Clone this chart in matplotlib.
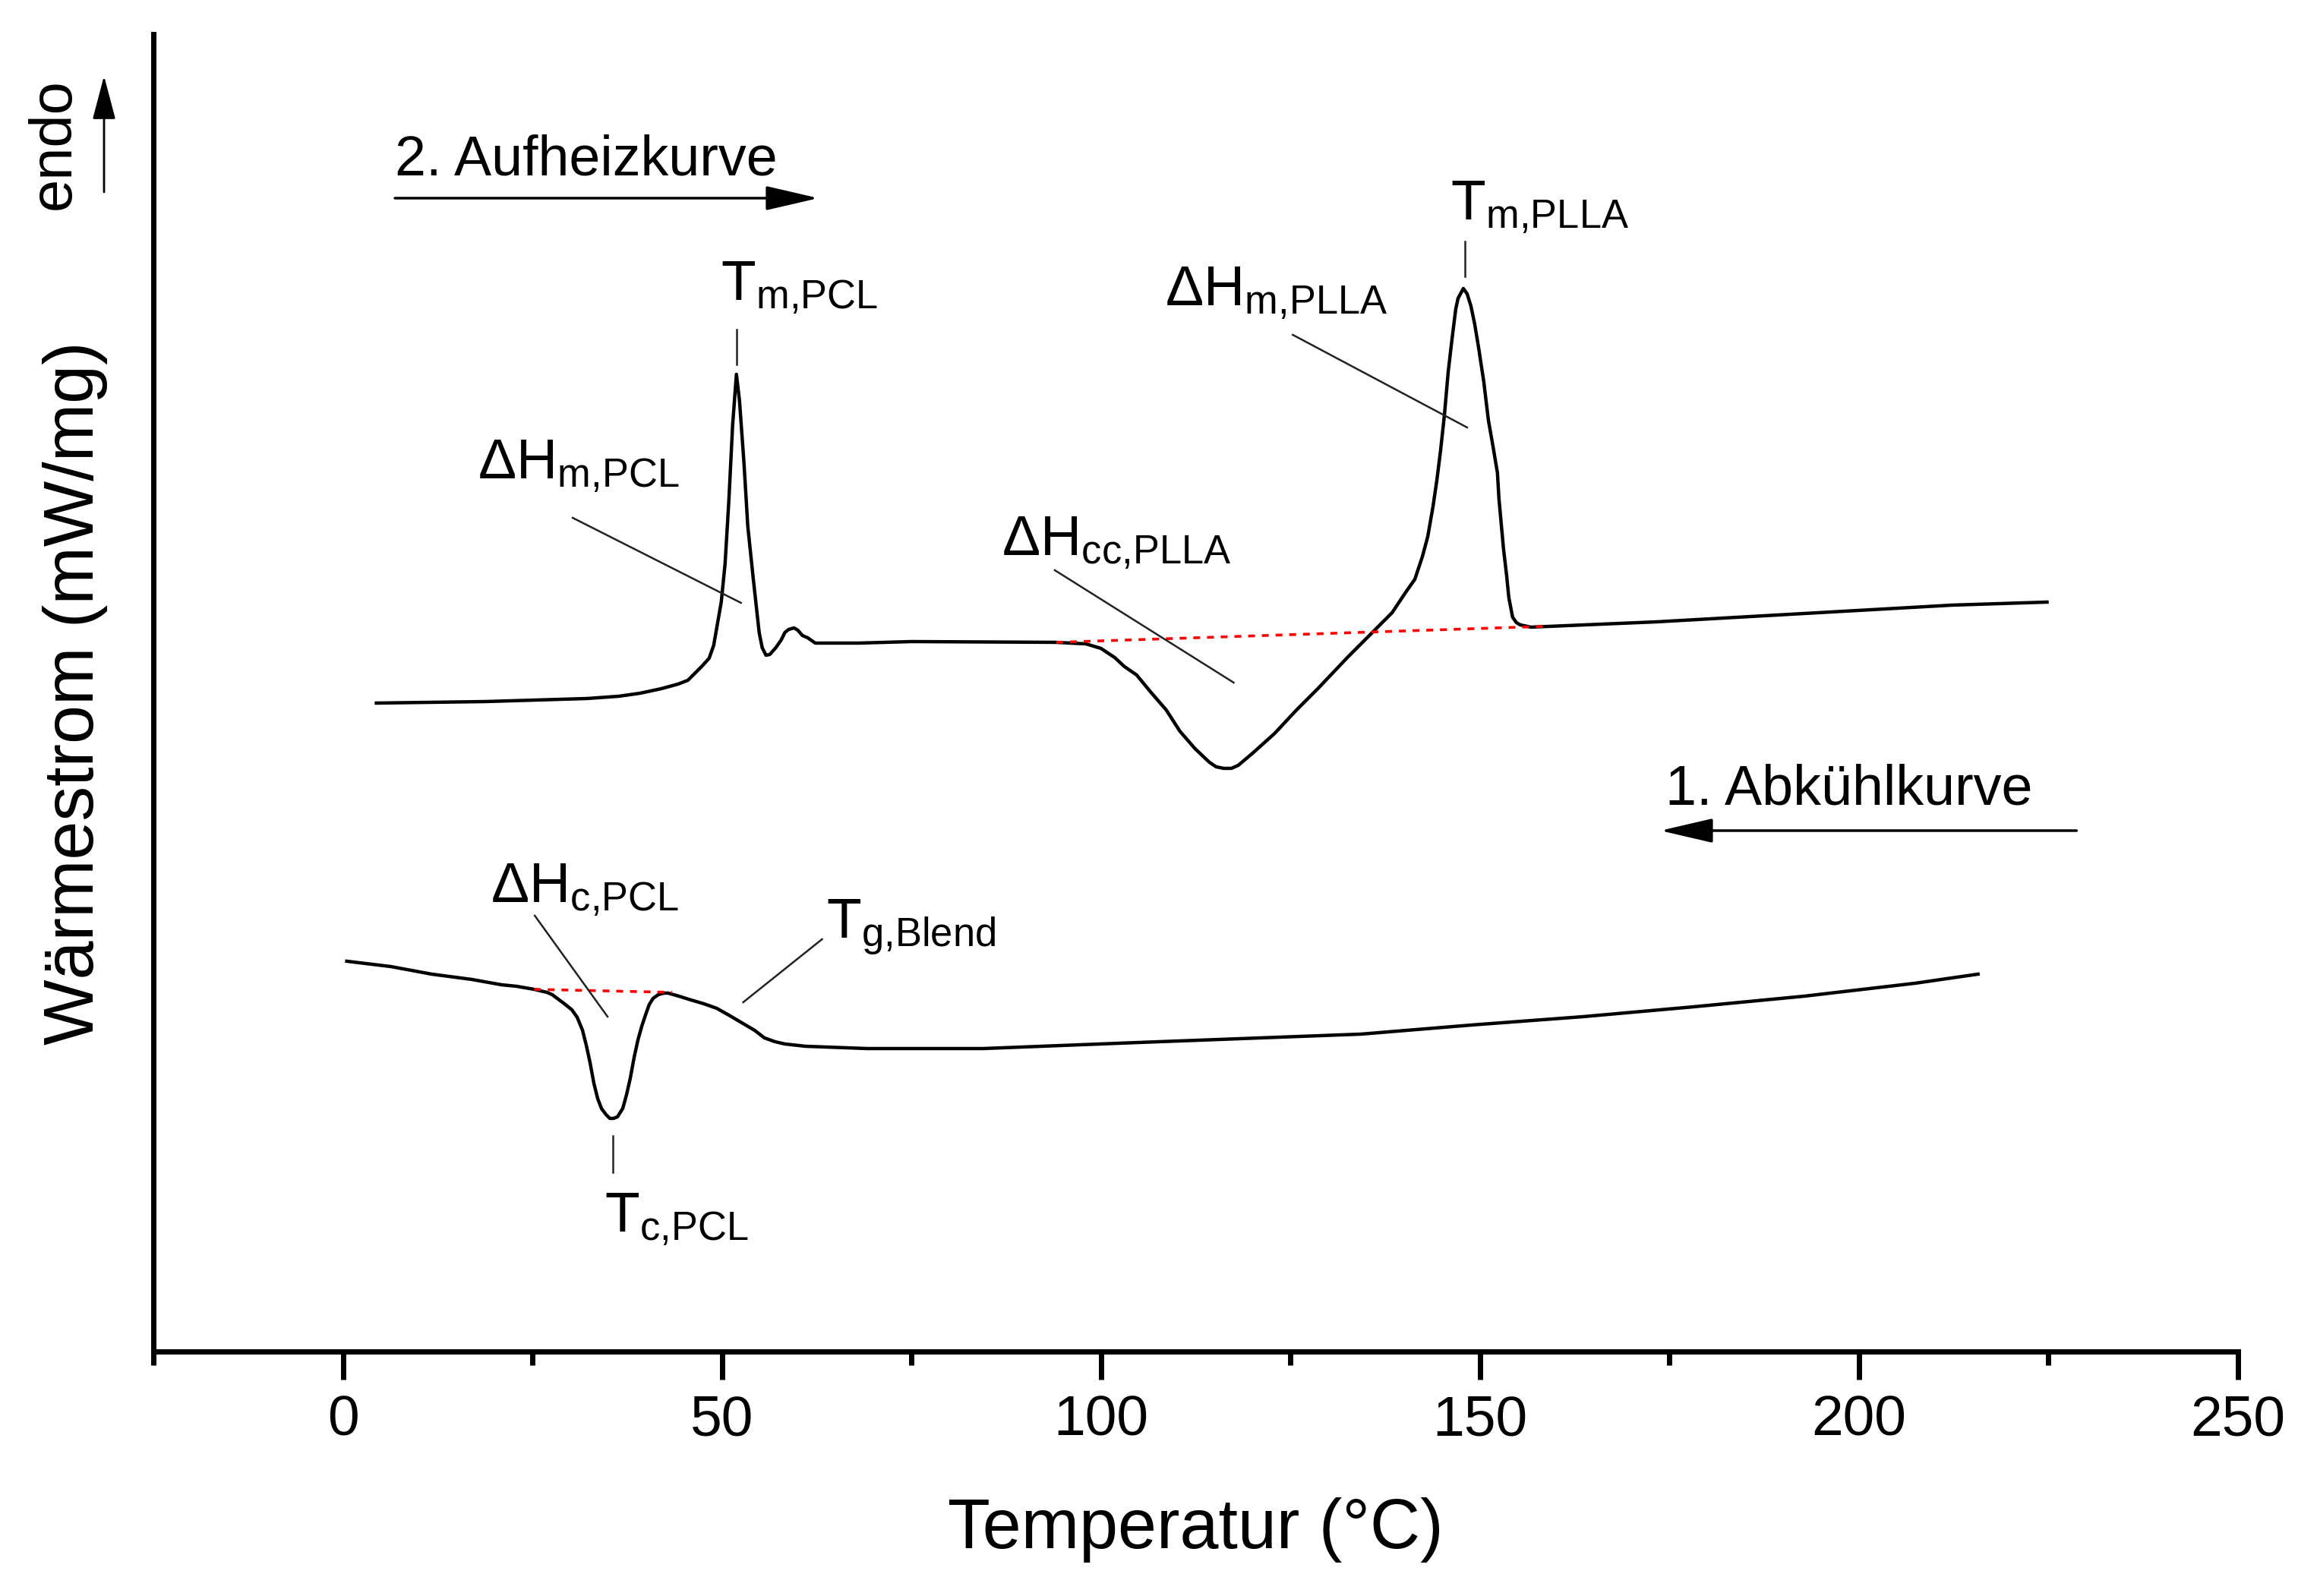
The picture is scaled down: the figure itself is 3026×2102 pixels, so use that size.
import matplotlib
matplotlib.use("Agg")
import matplotlib.pyplot as plt

plt.rcParams["font.family"] = ["Liberation Sans", "DejaVu Sans"]
plt.rcParams["mathtext.fontset"] = "custom"
plt.rcParams["mathtext.rm"] = "Liberation Sans"
plt.rcParams["mathtext.it"] = "Liberation Sans:italic"

# 2. Aufheizkurve (temperature in degC, heat flow in arbitrary units)
heat_T = [4.4, 18.8, 32.2, 36.4, 39.2, 42.0, 44.2, 45.5, 47.3, 48.3, 48.9, 49.9,
          50.4, 50.9, 51.4, 51.9, 52.3, 52.9, 53.4, 54.1, 54.9, 55.3, 55.8, 56.3,
          57.1, 57.8, 58.3, 58.8, 59.5, 60.0, 60.6, 61.3, 62.3, 68.0, 75.0, 94.0,
          98.0, 100.0, 101.8, 103.1, 104.7,
          106.6, 108.6, 110.4, 112.4, 114.3, 115.2, 116.2, 117.2, 118.1, 120.0,
          121.9, 122.9, 125.8, 128.7, 132.5, 135.4, 137.1, 138.4, 140.2, 141.4,
          142.4, 143.1, 143.8, 144.3, 144.8, 145.3, 145.8, 146.3, 146.8, 147.1,
          147.8, 148.3, 148.8, 149.3, 149.8, 150.5, 151.1, 151.8, 152.3, 152.5,
          152.8, 153.1, 153.5, 153.8, 154.3, 154.8, 155.3, 156.7, 173.3, 192.8,
          212.3, 224.8]
heat_q = [8.54, 8.56, 8.60, 8.63, 8.67, 8.73, 8.79, 8.84, 9.02, 9.13, 9.30, 9.87,
          10.37, 11.20, 12.20, 12.87, 12.53, 11.70, 10.87, 10.20, 9.47, 9.27, 9.17,
          9.18, 9.27, 9.37, 9.47, 9.51, 9.53, 9.50, 9.43, 9.40, 9.33, 9.33, 9.35,
          9.34, 9.32, 9.26, 9.14, 9.02, 8.91,
          8.68, 8.45, 8.17, 7.94, 7.76, 7.70, 7.68, 7.68, 7.72, 7.88,
          8.05, 8.14, 8.45, 8.74, 9.14, 9.43, 9.60, 9.73, 10.00, 10.17,
          10.47, 10.73, 11.13, 11.47, 11.87, 12.33, 12.90, 13.33, 13.73, 13.87,
          14.00, 13.93, 13.77, 13.53, 13.23, 12.77, 12.27, 11.87, 11.57, 11.23,
          10.90, 10.57, 10.23, 9.93, 9.67, 9.60, 9.57, 9.54, 9.61, 9.72,
          9.83, 9.87]

# 1. Abkuehlkurve
cool_T = [0.5, 6.3, 11.7, 17.0, 20.9, 22.9, 25.2, 26.9, 27.6, 29.2, 30.2, 30.9,
          31.6, 32.1, 32.6, 33.1, 33.6, 34.1, 34.7, 35.2, 35.7, 36.2, 36.9, 37.4,
          37.9, 38.4, 38.9, 39.4, 39.9, 40.4, 40.9, 41.6, 42.3, 42.9, 44.3, 45.9,
          47.6, 49.3, 50.9, 52.6, 54.3, 55.6, 57.0, 58.3, 61.0, 69.1, 84.5, 105.0,
          134.3, 148.9, 163.6, 178.2, 192.8, 207.4, 215.7]
cool_q = [5.14, 5.07, 4.97, 4.90, 4.83, 4.81, 4.77, 4.73, 4.70, 4.58, 4.50, 4.40,
          4.23, 4.03, 3.80, 3.53, 3.33, 3.20, 3.12, 3.07, 3.07, 3.09, 3.20, 3.38,
          3.60, 3.87, 4.10, 4.28, 4.43, 4.57, 4.65, 4.70, 4.72, 4.72, 4.68, 4.63,
          4.58, 4.52, 4.43, 4.33, 4.23, 4.13, 4.08, 4.05, 4.02, 3.99, 3.99, 4.07,
          4.18, 4.30, 4.41, 4.54, 4.68, 4.85, 4.97]

# integration baselines (red dashed)
heat_base_T = [94.1, 158.4]
heat_base_q = [9.34, 9.55]
cool_base_T = [25.2, 43.4]
cool_base_q = [4.77, 4.73]

# annotation labels: text, anchor (T, q), leader line (T1, q1, T2, q2)
labels = [
    (r"$\mathrm{T_{m{,}PCL}}$", 49.8, 13.85, (51.9, 13.46, 51.9, 13.0)),
    (r"$\mathrm{\Delta H_{m{,}PCL}}$", 17.8, 11.50, (30.3, 10.98, 52.5, 9.86)),
    (r"$\mathrm{\Delta H_{cc{,}PLLA}}$", 86.9, 10.49, (93.9, 10.29, 117.5, 8.81)),
    (r"$\mathrm{\Delta H_{m{,}PLLA}}$", 108.4, 13.78, (125.3, 13.39, 148.3, 12.17)),
    (r"$\mathrm{T_{m{,}PLLA}}$", 146.1, 14.91, (148.0, 14.62, 148.0, 14.16)),
    (r"$\mathrm{\Delta H_{c{,}PCL}}$", 19.5, 5.92, (25.3, 5.74, 34.9, 4.41)),
    (r"$\mathrm{T_{g{,}Blend}}$", 63.8, 5.44, (63.2, 5.43, 52.8, 4.60)),
    (r"$\mathrm{T_{c{,}PCL}}$", 34.5, 1.58, (35.6, 2.84, 35.6, 2.36)),
]

fig = plt.figure(figsize=(30.26, 21.02), dpi=100)
ax = fig.add_axes([0.0668, 0.1532, 0.9071, 0.8254])

ax.plot(heat_T, heat_q, color="black", lw=3.2, solid_joinstyle="round")
ax.plot(cool_T, cool_q, color="black", lw=3.2, solid_joinstyle="round")
ax.plot(heat_base_T, heat_base_q, color="red", lw=2.6, dashes=(2.5, 2.5))
ax.plot(cool_base_T, cool_base_q, color="red", lw=2.6, dashes=(2.5, 2.5))

for txt, tx, ty, (x1, y1, x2, y2) in labels:
    ax.text(tx, ty, txt, fontsize=54, ha="left", va="baseline")
    ax.plot([x1, x2], [y1, y2], color="#222222", lw=1.8)

# direction arrows
ax.text(6.85, 15.49, "2. Aufheizkurve", fontsize=53, ha="left", va="baseline")
ax.annotate("", xy=(62.7, 15.19), xytext=(6.85, 15.19),
            arrowprops=dict(arrowstyle="-|>,head_length=4.3,head_width=1.0",
                            mutation_scale=10, lw=2.5, color="black",
                            shrinkA=0, shrinkB=0))
ax.text(174.5, 7.20, "1. Abkühlkurve", fontsize=53, ha="left", va="baseline")
ax.annotate("", xy=(173.8, 6.86), xytext=(228.7, 6.86),
            arrowprops=dict(arrowstyle="-|>,head_length=4.3,head_width=1.0",
                            mutation_scale=10, lw=2.5, color="black",
                            shrinkA=0, shrinkB=0))

# endo marker
fig.text(71.5 / 3026, 1 - 190 / 2102, "endo", fontsize=56, rotation=90,
         ha="center", va="center")
ax.annotate("", xy=(137 / 3026, 1 - 100 / 2102), xycoords="figure fraction",
            xytext=(137 / 3026, 1 - 253 / 2102), textcoords="figure fraction",
            arrowprops=dict(arrowstyle="-|>,head_length=3.6,head_width=0.95",
                            mutation_scale=10, lw=2.0, color="black",
                            shrinkA=0, shrinkB=0))

ax.set_xlim(-25, 250)
ax.set_ylim(0, 17.35)
ax.spines["top"].set_visible(False)
ax.spines["right"].set_visible(False)
ax.spines["left"].set_linewidth(5)
ax.spines["bottom"].set_linewidth(5)
ax.set_yticks([])
ax.set_xticks([0, 50, 100, 150, 200, 250])
ax.set_xticks([-25, 25, 75, 125, 175, 225], minor=True)
ax.tick_params(axis="x", which="major", direction="out", length=26.5, width=5,
               labelsize=54, pad=14)
ax.tick_params(axis="x", which="minor", direction="out", length=13, width=5)

ax.set_xlabel("Temperatur (°C)", fontsize=66, labelpad=48)
ax.set_ylabel("Wärmestrom (mW/mg)", fontsize=66, labelpad=43)

fig.savefig("out.png", dpi=100)
